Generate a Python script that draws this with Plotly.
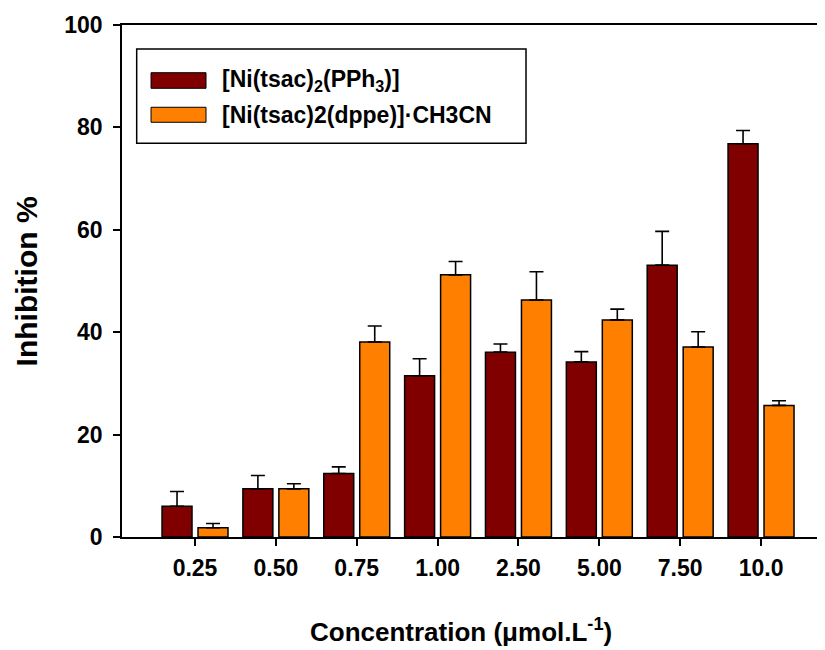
import plotly.graph_objects as go

categories = ["0.25", "0.50", "0.75", "1.00", "2.50", "5.00", "7.50", "10.0"]
pph3_values = [6.0, 9.4, 12.4, 31.5, 36.1, 34.2, 53.1, 76.8]
pph3_errors = [2.9, 2.6, 1.3, 3.3, 1.6, 2.0, 6.6, 2.6]
dppe_values = [1.8, 9.4, 38.1, 51.2, 46.3, 42.4, 37.1, 25.7]
dppe_errors = [0.85, 1.0, 3.1, 2.6, 5.5, 2.1, 3.0, 0.9]
y_ticks = [0, 20, 40, 60, 80, 100]

series_names = ["[Ni(tsac)<sub>2</sub>(PPh<sub>3</sub>)]", "[Ni(tsac)2(dppe)]·CH3CN"]
colors = ["#800000", "#FF8000"]

FONT = "Liberation Sans, Arial, Helvetica, sans-serif"

fig = go.Figure()
for vals, errs, col, name in [(pph3_values, pph3_errors, colors[0], series_names[0]),
                              (dppe_values, dppe_errors, colors[1], series_names[1])]:
    fig.add_trace(go.Bar(
        x=categories, y=vals, name=name,
        marker=dict(color=col, line=dict(color="black", width=1.5)),
        error_y=dict(type="data", array=errs, arrayminus=[0] * len(errs), symmetric=False,
                     color="black", thickness=1.6, width=7),
        showlegend=False,
    ))

# page body has an 8px default margin, so the figure is sized to fit inside the window
fig.update_layout(
    width=817, height=642,
    margin=dict(l=114, r=0, t=17, b=113),
    paper_bgcolor="white", plot_bgcolor="white",
    barmode="group", bargap=0.11, bargroupgap=0.167,
    font=dict(family=FONT, color="black"),
)

fig.update_xaxes(
    type="category", categoryorder="array", categoryarray=categories,
    range=[-0.903, 7.791],
    showline=True, linecolor="black", linewidth=2, mirror=True,
    ticks="outside", ticklen=7, tickwidth=1.5, tickcolor="black",
    tickfont=dict(size=23, family=FONT, weight="bold", color="black"),
    ticklabelstandoff=2,
    showgrid=False, zeroline=False,
)
fig.update_yaxes(
    range=[0, 100], tickvals=y_ticks,
    showline=True, linecolor="black", linewidth=1.5,
    ticks="outside", ticklen=7, tickwidth=1.5, tickcolor="black",
    tickfont=dict(size=23, family=FONT, weight="bold", color="black"),
    ticklabelstandoff=6,
    showgrid=False, zeroline=False,
)

# axis titles
fig.add_annotation(text="Concentration (μmol.L<sup>-1</sup>)", xref="paper", yref="paper",
                   x=0.482, y=-0.183, xanchor="center", yanchor="middle", showarrow=False,
                   font=dict(size=26, family=FONT, weight="bold", color="black"))
fig.add_annotation(text="Inhibition %", xref="paper", yref="paper", textangle=-90,
                   x=-0.136, y=0.5, xanchor="center", yanchor="middle", showarrow=False,
                   font=dict(size=30, family=FONT, weight="bold", color="black"))

# legend box (drawn manually to match wide swatches)
fig.add_shape(type="rect", xref="paper", yref="paper", x0=0.0209, x1=0.5747, y0=0.769, y1=0.953,
              line=dict(color="black", width=1.5), fillcolor="white", layer="above")
sw_y = [(0.8764, 0.9068), (0.8100, 0.8393)]
txt_y = [0.8916, 0.8246]
for i in range(2):
    fig.add_shape(type="rect", xref="paper", yref="paper", x0=0.0413, x1=0.1195,
                  y0=sw_y[i][0], y1=sw_y[i][1], line=dict(color="black", width=1),
                  fillcolor=colors[i], layer="above")
    fig.add_annotation(text=series_names[i], xref="paper", yref="paper",
                       x=0.1394, y=txt_y[i], xanchor="left", yanchor="middle", showarrow=False,
                       font=dict(size=23, family=FONT, weight="bold", color="black"))

fig.write_html("out.html")
